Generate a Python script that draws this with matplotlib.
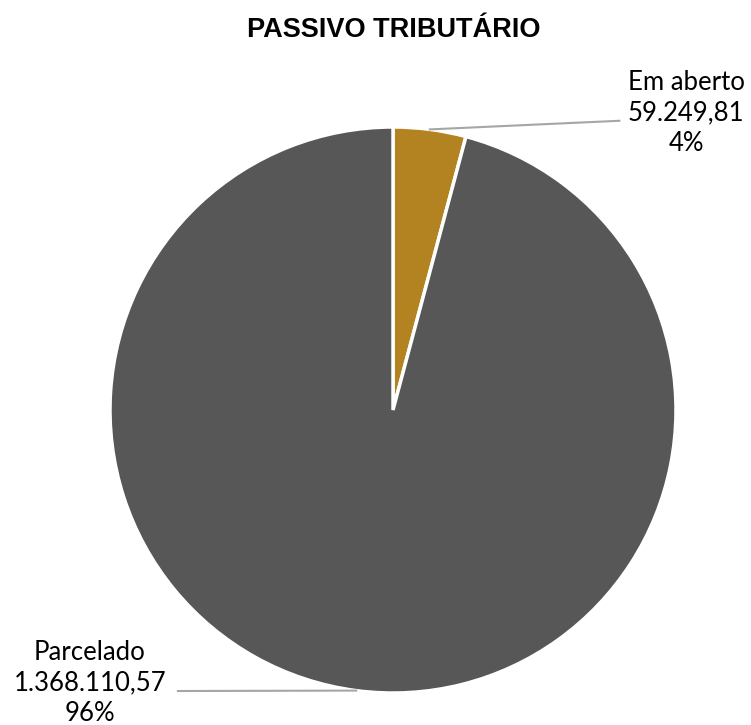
import matplotlib
matplotlib.use("Agg")
import matplotlib.pyplot as plt
import numpy as np

categories = ["Em aberto", "Parcelado"]
values = [59249.81, 1368110.57]
colors = ["#B38321", "#575757"]
title = "PASSIVO TRIBUTÁRIO"

def fmt_br(v):
    s = f"{v:,.2f}"
    return s.replace(",", "X").replace(".", ",").replace("X", ".")

W, H = 751, 725
fig = plt.figure(figsize=(W/100, H/100), dpi=100)
cx, cy, r = 393, 410, 283
ax = fig.add_axes([(cx - r)/W, (H - cy - r)/H, 2*r/W, 2*r/H])
wedges, _ = ax.pie(values, colors=colors, startangle=90, counterclock=False,
                   radius=1.0, wedgeprops=dict(edgecolor="white", linewidth=2.5))
ax.set_xlim(-1, 1)
ax.set_ylim(-1, 1)
ax.set_aspect("equal")
ax.axis("off")

total = sum(values)
line_ends = [(0.80, 1.022), (-0.76, -0.993)]
text_pos = [(1.036, 1.049), (-1.071, -0.965)]
for w, cat, v, le, tp in zip(wedges, categories, values, line_ends, text_pos):
    ang = np.deg2rad((w.theta1 + w.theta2) / 2)
    x0, y0 = np.cos(ang), np.sin(ang)
    ax.plot([x0, le[0]], [y0, le[1]], color="#A6A6A6", lw=1.5, clip_on=False)
    pct = round(v / total * 100)
    ax.text(tp[0], tp[1], f"{cat}\n{fmt_br(v)}\n{pct}%", ha="center", va="center",
            fontsize=18.5, family="Lato", color="#000000", linespacing=1.28,
            clip_on=False)

fig.text(394/W, 1 - 30/H, title, ha="center", va="center", fontsize=19.5,
         fontweight="bold", family="Liberation Sans", color="black")

fig.savefig("out.png", dpi=100, facecolor="white")
